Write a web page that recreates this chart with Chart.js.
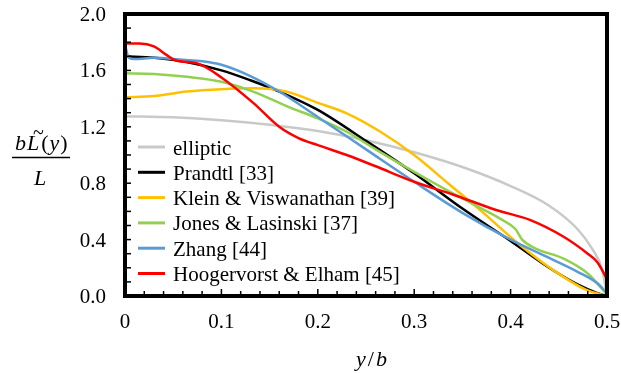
<!DOCTYPE html>
<html>
<head>
<meta charset="utf-8">
<script src="https://cdn.jsdelivr.net/npm/chart.js@4.4.0/dist/chart.umd.min.js"></script>
<style>
  html, body { margin: 0; padding: 0; background: #fff; }
  #wrap { width: 621px; height: 373px; }
</style>
</head>
<body>
<div id="wrap"><canvas id="myChart" width="621" height="373"></canvas></div>
<script>
// values (x = y/b, y = b*L(y)/L)
const seriesNames = ["elliptic", "Prandtl [33]", "Klein & Viswanathan [39]", "Jones & Lasinski [37]", "Zhang [44]", "Hoogervorst & Elham [45]"];
const seriesColors = ["#c9c9c9", "#000000", "#ffc000", "#92d050", "#5b9bd5", "#ff0000"];

const ellX = [0, 0.05, 0.1, 0.15, 0.2, 0.25, 0.3, 0.35, 0.4, 0.44, 0.47, 0.485, 0.495, 0.5];
const ellY = [1.275, 1.267, 1.247, 1.215, 1.17, 1.105, 1.02, 0.915, 0.78, 0.64, 0.47, 0.33, 0.19, 0.0];

const prandtlX = [0, 0.03, 0.06, 0.1, 0.13, 0.16, 0.2, 0.25, 0.3, 0.35, 0.4, 0.44, 0.47, 0.49, 0.5];
const prandtlY = [1.70, 1.69, 1.665, 1.60, 1.53, 1.45, 1.32, 1.10, 0.87, 0.62, 0.39, 0.20, 0.08, 0.02, 0.0];

const kleinX = [0, 0.03, 0.064, 0.1, 0.133, 0.167, 0.2, 0.23, 0.265, 0.3, 0.335, 0.37, 0.41, 0.445, 0.478, 0.5];
const kleinY = [1.41, 1.418, 1.45, 1.467, 1.473, 1.45, 1.37, 1.296, 1.165, 1.0, 0.80, 0.60, 0.36, 0.18, 0.045, 0.0];

const jonesX = [0, 0.03, 0.064, 0.1, 0.133, 0.17, 0.2, 0.23, 0.26, 0.3, 0.33, 0.36, 0.39, 0.405, 0.412, 0.425, 0.455, 0.48, 0.5];
const jonesY = [1.58, 1.575, 1.555, 1.52, 1.45, 1.34, 1.26, 1.165, 1.04, 0.88, 0.765, 0.655, 0.545, 0.475, 0.40, 0.34, 0.265, 0.16, 0.01];

const zhangX = [0, 0.004, 0.01, 0.03, 0.06, 0.08, 0.1, 0.13, 0.16, 0.2, 0.25, 0.3, 0.35, 0.4, 0.44, 0.47, 0.49, 0.5];
const zhangY = [1.78, 1.69, 1.68, 1.69, 1.675, 1.665, 1.64, 1.56, 1.45, 1.27, 1.04, 0.81, 0.59, 0.40, 0.27, 0.17, 0.09, 0.02];

const hoogX = [0, 0.015, 0.03, 0.043, 0.053, 0.075, 0.1, 0.133, 0.16, 0.18, 0.2, 0.23, 0.26, 0.3, 0.34, 0.385, 0.42, 0.455, 0.48, 0.49, 0.5];
const hoogY = [1.79, 1.79, 1.77, 1.71, 1.67, 1.65, 1.55, 1.37, 1.20, 1.12, 1.07, 1.00, 0.92, 0.81, 0.72, 0.61, 0.54, 0.42, 0.30, 0.24, 0.12];

const xTickLabels = ["0", "0.1", "0.2", "0.3", "0.4", "0.5"];
const yTickLabels = ["0.0", "0.4", "0.8", "1.2", "1.6", "2.0"];

const serif = "'Liberation Serif'";

function pts(xs, ys) {
   return xs.map((x, i) => ({ x: x, y: ys[i] }));
}

const allX = [ellX, prandtlX, kleinX, jonesX, zhangX, hoogX];
const allY = [ellY, prandtlY, kleinY, jonesY, zhangY, hoogY];

const datasets = seriesNames.map((name, i) => ({
   label: name,
   data: pts(allX[i], allY[i]),
   borderColor: seriesColors[i],
   backgroundColor: seriesColors[i],
   borderWidth: 2.5,
   pointRadius: 0,
   cubicInterpolationMode: "monotone",
   order: seriesNames.length - i, // later series on top
}));

// the serif face only comes out right at small sizes here,
// so draw it at 16px and scale the canvas up to the size wanted
function serifText(ctx, text, x, y, size, style, align) {
   ctx.save();
   ctx.translate(x, y);
   const k = size / 16;
   ctx.scale(k, k);
   ctx.font = style + " 16px " + serif;
   ctx.textAlign = align;
   ctx.textBaseline = "alphabetic";
   ctx.fillText(text, 0, 0);
   const w = ctx.measureText(text).width * k;
   ctx.restore();
   return w;
}

// pieces of text one after another, [text, style, gap after]
function runText(ctx, parts, x, y, size) {
   let pos = {};
   parts.forEach((p) => {
      pos[p[0]] = pos[p[0]] || x;
      x += serifText(ctx, p[0], x, y, size, p[1], "left") + p[2];
   });
   return pos;
}

// frame, tick marks and labels, legend and the axis titles
const decorations = {
   id: "decorations",
   afterDatasetsDraw(chart) {
      const ctx = chart.ctx;
      const a = chart.chartArea;
      const xs = chart.scales.x;
      const ys = chart.scales.y;
      ctx.save();
      ctx.strokeStyle = "#000";
      ctx.fillStyle = "#000";

      // minor ticks on the y axis (inside)
      ctx.lineWidth = 1.5;
      for (let k = 1; k < 20; k++) {
         const py = ys.getPixelForValue(k / 10);
         ctx.beginPath();
         ctx.moveTo(a.left, py);
         ctx.lineTo(a.left + 6, py);
         ctx.stroke();
      }
      // ticks on the x axis (inside)
      for (let k = 1; k < 25; k++) {
         const px = xs.getPixelForValue(k * 0.02);
         const len = k % 5 == 0 ? 7 : 5;
         ctx.beginPath();
         ctx.moveTo(px, a.bottom);
         ctx.lineTo(px, a.bottom - len);
         ctx.stroke();
      }

      // frame
      ctx.lineWidth = 4;
      ctx.strokeRect(a.left, a.top, a.right - a.left, a.bottom - a.top);

      // tick labels from the scales' own ticks
      xs.ticks.forEach((t) => {
         serifText(ctx, xTickLabels[Math.round(t.value * 10)], xs.getPixelForValue(t.value), 328, 21, "normal", "center");
      });
      ys.ticks.forEach((t) => {
         serifText(ctx, yTickLabels[Math.round(t.value / 0.4)], 106, ys.getPixelForValue(t.value) + 7, 21, "normal", "right");
      });

      // legend
      chart.data.datasets.forEach((ds, i) => {
         const y = 147 + i * 25.3;
         ctx.strokeStyle = ds.borderColor;
         ctx.lineWidth = 3;
         ctx.beginPath();
         ctx.moveTo(138, y);
         ctx.lineTo(165, y);
         ctx.stroke();
         serifText(ctx, ds.label, 173, y + 7.5, 21, "normal", "left");
      });

      // y axis title: b L~(y) / L
      ctx.strokeStyle = "#000";
      const pos = runText(ctx, [["b", "italic", 1], ["L", "italic", 2], ["(", "normal", 1], ["y", "italic", 1], [")", "normal", 0]], 15, 150, 22);
      serifText(ctx, "~", pos["L"] + 6, 139, 20, "normal", "left");
      ctx.lineWidth = 1.3;
      ctx.beginPath();
      ctx.moveTo(12, 157.5);
      ctx.lineTo(70, 157.5);
      ctx.stroke();
      serifText(ctx, "L", 40, 185, 22, "italic", "center");

      // x axis title: y / b
      runText(ctx, [["y", "italic", 2], ["/", "normal", 2], ["b", "italic", 0]], 356, 366, 22);
      ctx.restore();
   },
};

// keep the plot box where the reference has it
function noPad(s) {
   s.paddingTop = 0;
   s.paddingBottom = 0;
   s.paddingLeft = 0;
   s.paddingRight = 0;
}

function makeChart() {
   new Chart(document.getElementById("myChart"), {
      type: "line",
      data: { datasets },
      plugins: [decorations],
      options: {
         responsive: false,
         animation: false,
         layout: { padding: { top: 14, right: 14, left: 0, bottom: 0 } },
         plugins: {
            legend: { display: false },
            tooltip: { enabled: false },
         },
         scales: {
            x: {
               type: "linear",
               min: 0,
               max: 0.5,
               grid: { display: false, drawTicks: false },
               border: { display: false },
               ticks: { stepSize: 0.1, display: false },
               afterFit: (s) => { s.height = 77; noPad(s); },
            },
            y: {
               min: 0,
               max: 2,
               grid: { display: false, drawTicks: false },
               border: { display: false },
               ticks: { stepSize: 0.4, display: false },
               afterFit: (s) => { s.width = 125; noPad(s); },
            },
         },
      },
   });
}

// make sure the serif faces are ready before the canvas text is drawn
Promise.all([
   document.fonts.load("16px " + serif),
   document.fonts.load("italic 16px " + serif),
]).finally(makeChart);
</script>
</body>
</html>
